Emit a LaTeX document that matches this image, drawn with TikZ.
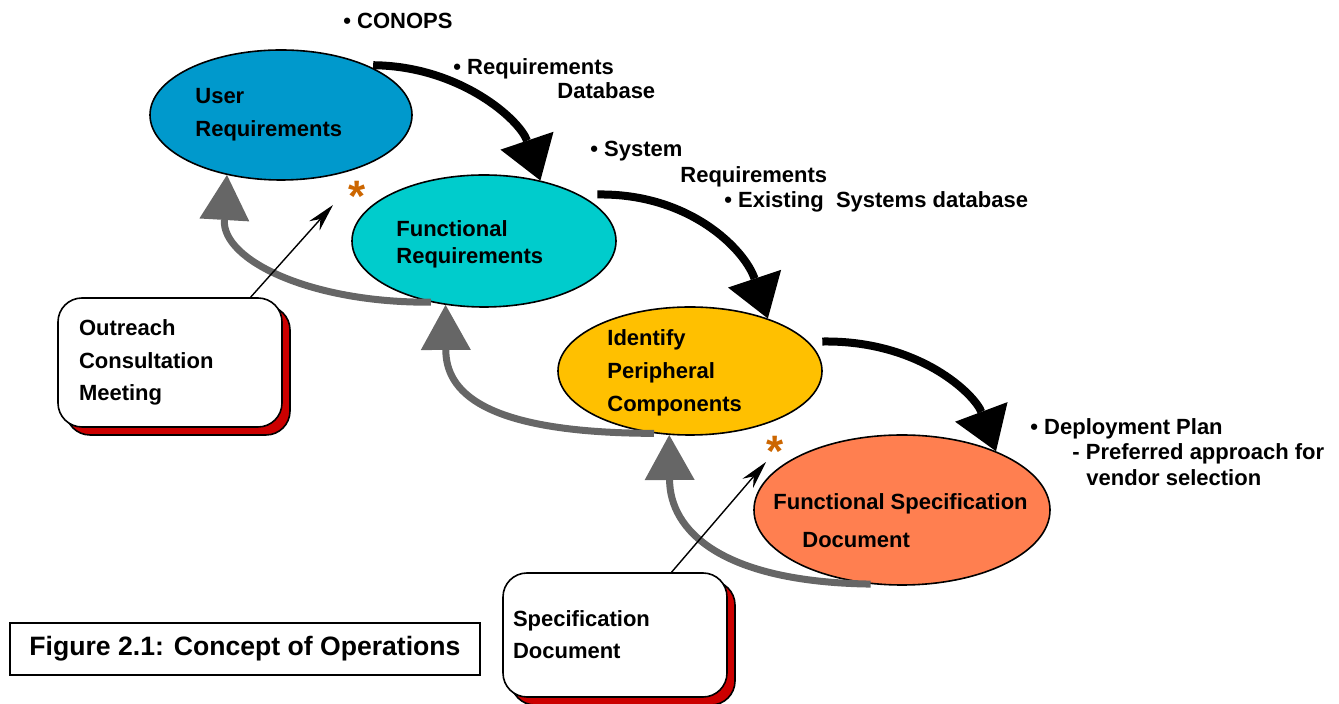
\documentclass[tikz,border=0pt]{standalone}
\usepackage{fontspec}
\setmainfont{Liberation Sans}
\usetikzlibrary{arrows.meta,shapes.geometric,shadows}
\definecolor{userblue}{HTML}{0099CC}
\definecolor{funccyan}{HTML}{00CCCC}
\definecolor{periyellow}{HTML}{FFC000}
\definecolor{speccoral}{HTML}{FF7F50}
\definecolor{backgray}{HTML}{666666}
\definecolor{shadowred}{HTML}{CC0000}
\definecolor{starorange}{HTML}{CC6600}

\begin{document}
\begin{tikzpicture}[x=0.5pt,y=-0.5pt,
    every node/.style={font=\bfseries\fontsize{11}{13}\selectfont},
    stage/.style={ellipse,draw,line width=0.8pt,inner sep=0pt},
    tag/.style={anchor=west,align=left,inner sep=0pt},
    flow/.style={-{Triangle[length=21pt,width=28pt,line width=0pt]},line width=4pt},
    back/.style={-{Triangle[length=22.5pt,width=25pt,line width=0pt]},line width=3.5pt,color=backgray},
    note/.style={draw,fill=white,rounded corners=12pt,line width=0.8pt,inner sep=0pt,align=left,
        drop shadow={shadow xshift=4pt,shadow yshift=-4pt,opacity=1,fill=shadowred,draw=black,line width=0.8pt}},
    pointer/.style={-{Stealth[length=14pt,width=7pt]},line width=0.7pt},
    star/.style={text=starorange,font=\bfseries\fontsize{22}{22}\selectfont,inner sep=0pt}]
    \useasboundingbox (0,0) rectangle (1339,704);

    \node (ur) at (281,115) [stage,fill=userblue,minimum width=131pt,minimum height=65pt] {};
    \node (fr) at (484,241) [stage,fill=funccyan,minimum width=132pt,minimum height=66pt] {};
    \node (ip) at (690,371) [stage,fill=periyellow,minimum width=132pt,minimum height=64pt] {};
    \node (fs) at (902,510) [stage,fill=speccoral,minimum width=148pt,minimum height=75pt] {};

    \node (ur-text) at (195,115) [tag,font=\bfseries\fontsize{11}{16.5}\selectfont] {User\\Requirements};
    \node (fr-text) at (396,244) [tag,font=\bfseries\fontsize{11}{13.5}\selectfont] {Functional\\Requirements};
    \node (ip-text) at (607,373) [tag,font=\bfseries\fontsize{11}{16.5}\selectfont] {Identify\\Peripheral\\Components};
    \node (fs-text) at (773,521) [tag,font=\bfseries\fontsize{11}{19}\selectfont] {Functional Specification\\\hspace*{14.5pt}Document};

    \draw [flow] ([xshift=3pt]ur.30) .. controls (460,66) and (520,120) .. (fr.47);
    \draw [flow] ([xshift=9pt]fr.26) .. controls (690,193) and (745,250) .. (ip.34);
    \draw [flow] ([xshift=7pt]ip.14) .. controls (920,340) and (975,395) .. (fs.32);

    \draw [back] (fr.229) .. controls (310,303) and (222,260) .. (ur.228);
    \draw [back] (ip.240) .. controls (480,433) and (446,390) .. (fr.239);
    \draw [back] (fs.247) .. controls (720,582) and (670,530) .. (ip.252);

    \node (ob) at (170,362.5) [note,minimum width=112pt,minimum height=64.5pt,text width=91pt,font=\bfseries\fontsize{11}{16.25}\selectfont] {Outreach\\Consultation\\Meeting};
    \node (sb) at (615,635) [note,minimum width=112pt,minimum height=62pt,text width=102pt,font=\bfseries\fontsize{11}{16}\selectfont] {Specification\\Document};

    \coordinate (ob-end) at (333,205);
    \coordinate (sb-end) at (766,462);
    \draw [pointer] (ob.39) -- (ob-end);
    \draw [pointer] (sb.48) -- (sb-end);

    \node (st1) at (357,196) [star] {*};
    \node (st2) at (775,451) [star] {*};

    \node (conops) at (343,21) [tag] {• CONOPS};
    \node (reqdb) at (453,79) [tag,font=\bfseries\fontsize{11}{12}\selectfont] {• Requirements\\\hspace*{52pt}Database};
    \node (sysreq) at (590,177) [tag,font=\bfseries\fontsize{11}{12.75}\selectfont] {• System\\\hspace*{45pt}Requirements\\\hspace*{67pt}• Existing\ \ Systems database};
    \node (deploy) at (1030,452) [tag,font=\bfseries\fontsize{11}{12.75}\selectfont] {• Deployment Plan\\\hspace*{21pt}- Preferred approach for\\\hspace*{28pt}vendor selection};

    \node (fig) at (245,649) [draw,line width=1pt,minimum width=235pt,minimum height=26pt,font=\bfseries\fontsize{13.3}{16}\selectfont] {Figure 2.1: Concept of Operations};
\end{tikzpicture}
\end{document}
